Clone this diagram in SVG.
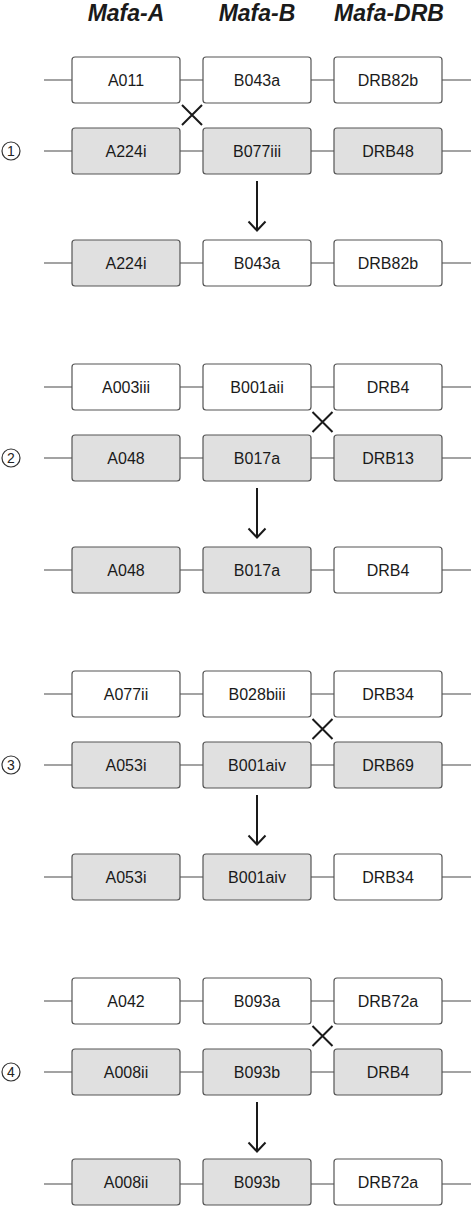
<svg xmlns="http://www.w3.org/2000/svg" width="474" height="1206" viewBox="0 0 474 1206">
<style>
.bw{fill:#ffffff;stroke:#555555;stroke-width:1.2}
.bg{fill:#e0e0e0;stroke:#555555;stroke-width:1.2}
.t{font-family:"Liberation Sans",Arial,sans-serif;font-size:16px;fill:#1a1a1a;text-anchor:middle}
.h{font-family:"Liberation Sans",Arial,sans-serif;font-size:23px;font-weight:bold;font-style:italic;fill:#1a1a1a;text-anchor:middle}
.ln{stroke:#666666;stroke-width:1.2;fill:none}
.x{stroke:#1a1a1a;stroke-width:2;fill:none}
.ar{stroke:#1a1a1a;stroke-width:2;fill:none}
.c{fill:#ffffff;stroke:#333333;stroke-width:1.2}
.n{font-family:"Liberation Sans",Arial,sans-serif;font-size:14px;fill:#222222;text-anchor:middle}
</style>
<defs>
<g id="rowlines">
<line class="ln" x1="44" y1="0" x2="72" y2="0"/>
<line class="ln" x1="180" y1="0" x2="203" y2="0"/>
<line class="ln" x1="311" y1="0" x2="334" y2="0"/>
<line class="ln" x1="442" y1="0" x2="471" y2="0"/>
</g>
</defs>
<g id="headers">
<text class="h" x="126" y="21">Mafa-A</text>
<text class="h" x="257" y="21">Mafa-B</text>
<text class="h" x="389" y="21">Mafa-DRB</text>
</g>
<g id="connectors">
<use href="#rowlines" y="80"/><use href="#rowlines" y="151"/><use href="#rowlines" y="263"/>
<use href="#rowlines" y="387"/><use href="#rowlines" y="458"/><use href="#rowlines" y="570"/>
<use href="#rowlines" y="694"/><use href="#rowlines" y="765"/><use href="#rowlines" y="877"/>
<use href="#rowlines" y="1001"/><use href="#rowlines" y="1072"/><use href="#rowlines" y="1184"/>
<path class="x" d="M182 105 L202 125 M202 105 L182 125"/>
<path class="x" d="M312.5 412 L332.5 432 M332.5 412 L312.5 432"/>
<path class="x" d="M312.5 719 L332.5 739 M332.5 719 L312.5 739"/>
<path class="x" d="M312.5 1026 L332.5 1046 M332.5 1026 L312.5 1046"/>
<path class="ar" d="M257 181 V230 M248.5 221.5 L257 230.5 L265.5 221.5"/>
<path class="ar" d="M257 488 V537 M248.5 528.5 L257 537.5 L265.5 528.5"/>
<path class="ar" d="M257 795 V844 M248.5 835.5 L257 844.5 L265.5 835.5"/>
<path class="ar" d="M257 1102 V1151 M248.5 1142.5 L257 1151.5 L265.5 1142.5"/>
</g>
<g id="labels">
<g id="num1"><circle class="c" cx="11" cy="151" r="9"/><text class="n" x="11" y="156">1</text></g>
<g id="num2"><circle class="c" cx="11" cy="458" r="9"/><text class="n" x="11" y="463">2</text></g>
<g id="num3"><circle class="c" cx="11" cy="765" r="9"/><text class="n" x="11" y="770">3</text></g>
<g id="num4"><circle class="c" cx="11" cy="1072" r="9"/><text class="n" x="11" y="1077">4</text></g>
</g>
<g id="b1r1a"><rect class="bw" x="72" y="57" width="108" height="46" rx="3"/><text class="t" x="126" y="86">A011</text></g>
<g id="b1r1b"><rect class="bw" x="203" y="57" width="108" height="46" rx="3"/><text class="t" x="257" y="86">B043a</text></g>
<g id="b1r1c"><rect class="bw" x="334" y="57" width="108" height="46" rx="3"/><text class="t" x="388" y="86">DRB82b</text></g>
<g id="b1r2a"><rect class="bg" x="72" y="128" width="108" height="46" rx="3"/><text class="t" x="126" y="157">A224i</text></g>
<g id="b1r2b"><rect class="bg" x="203" y="128" width="108" height="46" rx="3"/><text class="t" x="257" y="157">B077iii</text></g>
<g id="b1r2c"><rect class="bg" x="334" y="128" width="108" height="46" rx="3"/><text class="t" x="388" y="157">DRB48</text></g>
<g id="b1r3a"><rect class="bg" x="72" y="240" width="108" height="46" rx="3"/><text class="t" x="126" y="269">A224i</text></g>
<g id="b1r3b"><rect class="bw" x="203" y="240" width="108" height="46" rx="3"/><text class="t" x="257" y="269">B043a</text></g>
<g id="b1r3c"><rect class="bw" x="334" y="240" width="108" height="46" rx="3"/><text class="t" x="388" y="269">DRB82b</text></g>
<g id="b2r1a"><rect class="bw" x="72" y="364" width="108" height="46" rx="3"/><text class="t" x="126" y="393">A003iii</text></g>
<g id="b2r1b"><rect class="bw" x="203" y="364" width="108" height="46" rx="3"/><text class="t" x="257" y="393">B001aii</text></g>
<g id="b2r1c"><rect class="bw" x="334" y="364" width="108" height="46" rx="3"/><text class="t" x="388" y="393">DRB4</text></g>
<g id="b2r2a"><rect class="bg" x="72" y="435" width="108" height="46" rx="3"/><text class="t" x="126" y="464">A048</text></g>
<g id="b2r2b"><rect class="bg" x="203" y="435" width="108" height="46" rx="3"/><text class="t" x="257" y="464">B017a</text></g>
<g id="b2r2c"><rect class="bg" x="334" y="435" width="108" height="46" rx="3"/><text class="t" x="388" y="464">DRB13</text></g>
<g id="b2r3a"><rect class="bg" x="72" y="547" width="108" height="46" rx="3"/><text class="t" x="126" y="576">A048</text></g>
<g id="b2r3b"><rect class="bg" x="203" y="547" width="108" height="46" rx="3"/><text class="t" x="257" y="576">B017a</text></g>
<g id="b2r3c"><rect class="bw" x="334" y="547" width="108" height="46" rx="3"/><text class="t" x="388" y="576">DRB4</text></g>
<g id="b3r1a"><rect class="bw" x="72" y="671" width="108" height="46" rx="3"/><text class="t" x="126" y="700">A077ii</text></g>
<g id="b3r1b"><rect class="bw" x="203" y="671" width="108" height="46" rx="3"/><text class="t" x="257" y="700">B028biii</text></g>
<g id="b3r1c"><rect class="bw" x="334" y="671" width="108" height="46" rx="3"/><text class="t" x="388" y="700">DRB34</text></g>
<g id="b3r2a"><rect class="bg" x="72" y="742" width="108" height="46" rx="3"/><text class="t" x="126" y="771">A053i</text></g>
<g id="b3r2b"><rect class="bg" x="203" y="742" width="108" height="46" rx="3"/><text class="t" x="257" y="771">B001aiv</text></g>
<g id="b3r2c"><rect class="bg" x="334" y="742" width="108" height="46" rx="3"/><text class="t" x="388" y="771">DRB69</text></g>
<g id="b3r3a"><rect class="bg" x="72" y="854" width="108" height="46" rx="3"/><text class="t" x="126" y="883">A053i</text></g>
<g id="b3r3b"><rect class="bg" x="203" y="854" width="108" height="46" rx="3"/><text class="t" x="257" y="883">B001aiv</text></g>
<g id="b3r3c"><rect class="bw" x="334" y="854" width="108" height="46" rx="3"/><text class="t" x="388" y="883">DRB34</text></g>
<g id="b4r1a"><rect class="bw" x="72" y="978" width="108" height="46" rx="3"/><text class="t" x="126" y="1007">A042</text></g>
<g id="b4r1b"><rect class="bw" x="203" y="978" width="108" height="46" rx="3"/><text class="t" x="257" y="1007">B093a</text></g>
<g id="b4r1c"><rect class="bw" x="334" y="978" width="108" height="46" rx="3"/><text class="t" x="388" y="1007">DRB72a</text></g>
<g id="b4r2a"><rect class="bg" x="72" y="1049" width="108" height="46" rx="3"/><text class="t" x="126" y="1078">A008ii</text></g>
<g id="b4r2b"><rect class="bg" x="203" y="1049" width="108" height="46" rx="3"/><text class="t" x="257" y="1078">B093b</text></g>
<g id="b4r2c"><rect class="bg" x="334" y="1049" width="108" height="46" rx="3"/><text class="t" x="388" y="1078">DRB4</text></g>
<g id="b4r3a"><rect class="bg" x="72" y="1159" width="108" height="46" rx="3"/><text class="t" x="126" y="1188">A008ii</text></g>
<g id="b4r3b"><rect class="bg" x="203" y="1159" width="108" height="46" rx="3"/><text class="t" x="257" y="1188">B093b</text></g>
<g id="b4r3c"><rect class="bw" x="334" y="1159" width="108" height="46" rx="3"/><text class="t" x="388" y="1188">DRB72a</text></g>
</svg>
